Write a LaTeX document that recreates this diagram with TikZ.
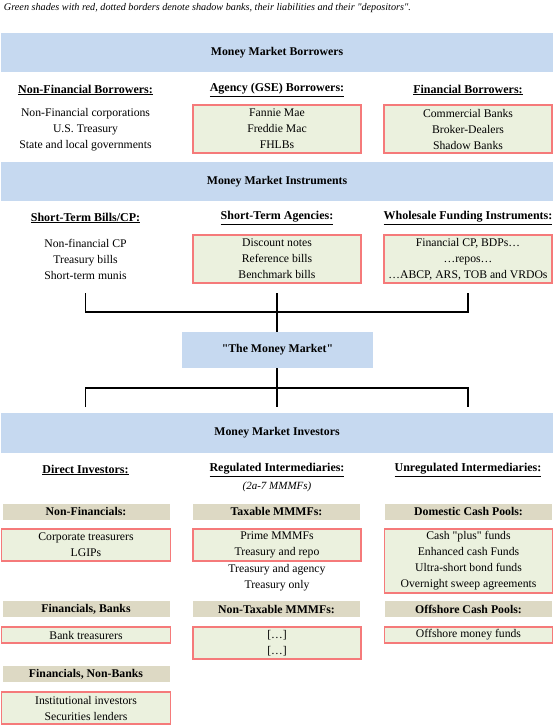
\documentclass[tikz,border=0pt]{standalone}
\usepackage{fontspec}
\setmainfont{Liberation Serif}[Ligatures=TeXOff]
\definecolor{mblue}{RGB}{198,217,240}
\definecolor{mgreen}{RGB}{235,241,222}
\definecolor{mred}{RGB}{245,122,122}
\definecolor{mtan}{RGB}{221,217,196}
\begin{document}
\begin{tikzpicture}[x=1pt,y=-1pt,
  every node/.style={inner sep=0pt, outer sep=0pt, align=center, font=\fontsize{11.7}{16}\selectfont},
  banner/.style={fill=mblue, minimum width=552pt, font=\fontsize{11.8}{16}\selectfont\bfseries},
  hdr/.style={font=\fontsize{12}{14}\selectfont\bfseries},
  sbox/.style={fill=mgreen, draw=mred, line width=1.6pt, minimum width=168pt},
  tanbar/.style={fill=mtan, minimum width=167pt, minimum height=16pt, font=\fontsize{11.8}{14}\selectfont\bfseries},
  plain/.style={},
  conn/.style={draw=black, line width=1.2pt},
  connc/.style={draw=black, line width=1.8pt}]
\useasboundingbox (0,0) rectangle (554,727);

% caption
\node[anchor=west, font=\fontsize{10.2}{12}\selectfont\itshape] (cap) at (4,8) {Green shades with red, dotted borders denote shadow banks, their liabilities and their "depositors".};

% Borrowers
\node[banner, minimum height=39pt] (b1) at (277,52.5) {Money Market Borrowers};
\node[hdr] (h11) at (85.5,90) {\underline{Non-Financial Borrowers:}};
\node[hdr] (h12) at (277,90) {\underline{Agency (GSE) Borrowers:}};
\node[hdr] (h13) at (468,90) {\underline{Financial Borrowers:}};
\node[plain] (c11) at (85.5,129.5) {Non-Financial corporations\\U.S. Treasury\\State and local governments};
\node[sbox, minimum height=48pt] (c12) at (277,129) {Fannie Mae\\Freddie Mac\\FHLBs};
\node[sbox, minimum height=48pt] (c13) at (468,129) {Commercial Banks\\Broker-Dealers\\Shadow Banks};

% Instruments
\node[banner, minimum height=39pt] (b2) at (277,181.5) {Money Market Instruments};
\node[hdr] (h21) at (85.5,218) {\underline{Short-Term Bills/CP:}};
\node[hdr] (h22) at (277,218) {\underline{Short-Term Agencies:}};
\node[hdr] (h23) at (468,218) {\underline{Wholesale Funding Instruments:}};
\node[plain] (c21) at (85.5,259.5) {Non-financial CP\\Treasury bills\\Short-term munis};
\node[sbox, minimum height=48pt] (c22) at (277,259) {Discount notes\\Reference bills\\Benchmark bills};
\node[sbox, minimum height=48pt] (c23) at (468,259) {Financial CP, BDPs…\\…repos…\\…ABCP, ARS, TOB and VRDOs};

% The money market
\node[fill=mblue, minimum width=191pt, minimum height=36pt, font=\fontsize{11.8}{16}\selectfont\bfseries] (mm) at (277.5,350) {"The Money Market"};

\coordinate (bL) at (85.5,293);
\coordinate (bC) at (277,293);
\coordinate (bR) at (468,293);
\coordinate (hL) at (85.5,312);
\coordinate (hR) at (468,312);
\draw[conn] (bL) -- (hL) -- (hR) -- (bR);
\draw[connc] (bC) -- (mm.north -| bC);

\coordinate (dL) at (85.5,388);
\coordinate (dR) at (468,388);
\coordinate (eL) at (85.5,407);
\coordinate (eC) at (277,407);
\coordinate (eR) at (468,407);
\draw[conn] (eL) -- (dL) -- (dR) -- (eR);
\draw[connc] (mm.south -| eC) -- (eC);

% Investors
\node[banner, minimum height=40pt] (b3) at (277,433) {Money Market Investors};
\node[hdr] (h31) at (85.5,470) {\underline{Direct Investors:}};
\node[hdr] (h32) at (277,470) {\underline{Regulated Intermediaries:}};
\node[hdr] (h33) at (468,470) {\underline{Unregulated Intermediaries:}};
\node[font=\fontsize{11}{12}\selectfont\itshape] (sub) at (277,487) {(2a-7 MMMFs)};

\node[tanbar] (t11) at (86,511.5) {Non-Financials:};
\node[tanbar] (t12) at (276.5,511.5) {Taxable MMMFs:};
\node[tanbar] (t13) at (468.5,511.5) {Domestic Cash Pools:};

\node[sbox, minimum height=32pt, minimum width=169pt] (g11) at (86,545) {Corporate treasurers\\LGIPs};
\node[sbox, minimum height=32pt] (g12) at (277,545) {Prime MMMFs\\Treasury and repo};
\node[plain] (p12) at (277,577.5) {Treasury and agency\\Treasury only};
\node[sbox, minimum height=64pt] (g13) at (468.5,561) {Cash "plus" funds\\Enhanced cash Funds\\Ultra-short bond funds\\Overnight sweep agreements};

\node[tanbar] (t21) at (86,609) {Financials, Banks};
\node[tanbar] (t22) at (276.5,609) {Non-Taxable MMMFs:};
\node[tanbar] (t23) at (468.5,609) {Offshore Cash Pools:};

\node[sbox, minimum height=16pt, minimum width=169pt] (g21) at (86,635) {Bank treasurers};
\node[sbox, minimum height=32pt] (g22) at (277,643) {{[…]}\\{[…]}};
\node[sbox, minimum height=16pt] (g23) at (468.5,635) {Offshore money funds};

\node[tanbar] (t31) at (86,674) {Financials, Non-Banks};
\node[sbox, minimum height=32pt, minimum width=169pt] (g31) at (86,708) {Institutional investors\\Securities lenders};
\end{tikzpicture}
\end{document}
